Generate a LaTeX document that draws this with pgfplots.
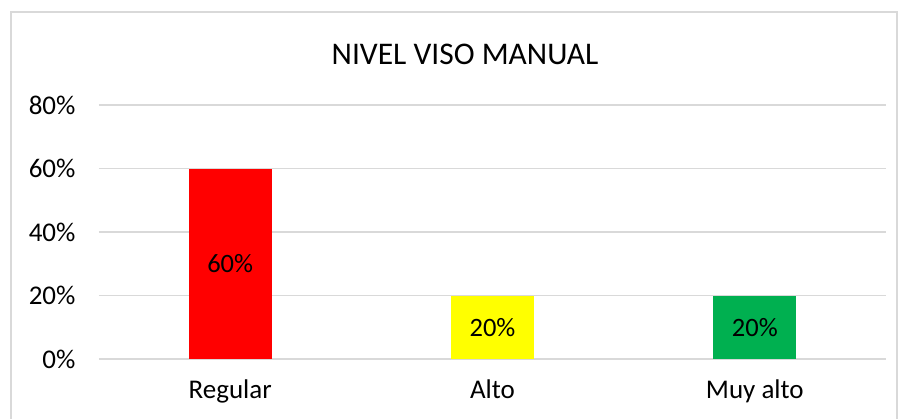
\documentclass[border=0pt]{standalone}
\usepackage{pgfplots}
\pgfplotsset{compat=1.18}
\usepackage{fontspec}
\setmainfont{Carlito}
\definecolor{gridc}{HTML}{D9D9D9}
\definecolor{barred}{HTML}{FF0000}
\definecolor{baryel}{HTML}{FFFF00}
\definecolor{bargrn}{HTML}{00B050}
\begin{document}
\begin{tikzpicture}[x=1pt,y=1pt]
\useasboundingbox (0,0) rectangle (900,418);
\draw[gridc, line width=1.5pt] (11,-2) -- (11,406) -- (897,406) -- (897,-2);
\node[font=\fontsize{31.5}{36}\selectfont, anchor=center] at (465,364) {NIVEL VISO MANUAL};
\begin{axis}[
  at={(99pt,59pt)}, anchor=south west,
  scale only axis, width=787pt, height=254pt,
  ymin=0, ymax=80, xmin=-0.5, xmax=2.5,
  ytick={0,20,40,60,80},
  yticklabel={\pgfmathprintnumber{\tick}\%},
  xtick={0,1,2}, xticklabels={Regular,Alto,Muy alto},
  major tick length=0pt,
  axis line style={draw=none},
  ymajorgrids, grid style={gridc, line width=1.5pt},
  tick label style={font=\fontsize{27}{31}\selectfont},
  /pgf/number format/assume math mode=true,
  yticklabel style={xshift=-20pt},
  xticklabel style={yshift=-17pt},
  ybar, bar width=83pt, bar shift=0pt,
  visualization depends on=y \as \rawy,
  nodes near coords={\pgfmathprintnumber{\pgfplotspointmeta}\%},
  every node near coord/.append style={anchor=center, font=\fontsize{26.5}{30}\selectfont, shift={(axis direction cs:0,-\rawy/2)}},
]
\addplot[fill=barred, draw=none] coordinates {(0,60)};
\addplot[fill=baryel, draw=none] coordinates {(1,20)};
\addplot[fill=bargrn, draw=none] coordinates {(2,20)};
\end{axis}
\end{tikzpicture}
\end{document}
